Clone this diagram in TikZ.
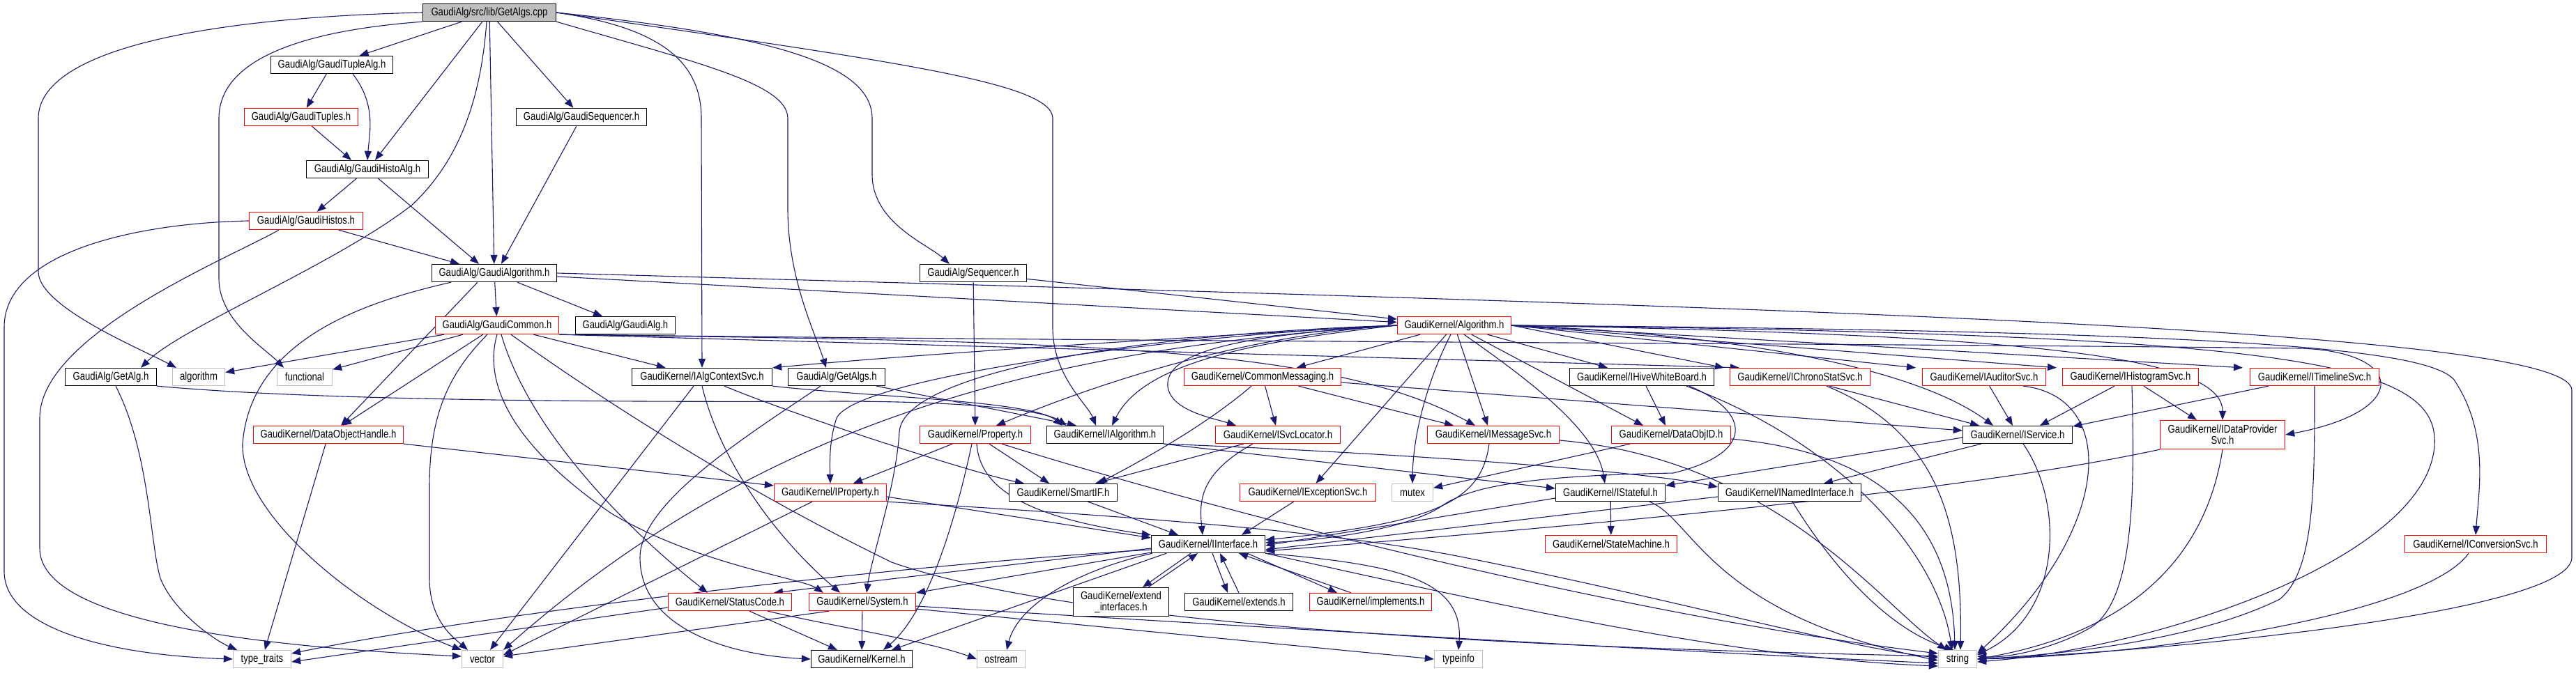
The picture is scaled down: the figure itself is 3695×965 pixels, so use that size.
\documentclass[tikz,border=0pt]{standalone}
\usepackage{fontspec}
\setmainfont{Liberation Sans}[FakeStretch=0.82]
\usetikzlibrary{arrows.meta}
\definecolor{edgeblue}{HTML}{191970}
\definecolor{extgrey}{HTML}{BFBFBF}
\definecolor{trunc}{HTML}{FF0000}
\pgfdeclarelayer{bg}
\pgfsetlayers{bg,main}
\tikzset{
  nbox/.style={draw=black, line width=0.65pt, rectangle, inner sep=0pt, minimum height=12.5pt, fill=white, align=center, font=\fontsize{8}{7.8}\selectfont},
  rbox/.style={nbox, draw=trunc},
  gbox/.style={nbox, draw=extgrey},
  rootn/.style={nbox, fill=extgrey},
  dep/.style={draw=edgeblue, line width=0.55pt, -{Triangle[length=6.5pt,width=5pt]}},
}
\begin{document}
\begin{tikzpicture}[x=0.5pt,y=-0.5pt]
\useasboundingbox (0,0) rectangle (3695,965);
% ---------------- nodes ----------------
\node[rootn, minimum width=95.5pt] (root) at (702,18) {GaudiAlg/src/lib/GetAlgs.cpp};
\node[nbox, minimum width=87.5pt] (tuplealg) at (476,93) {GaudiAlg/GaudiTupleAlg.h};
\node[rbox, minimum width=81.5pt] (tuples) at (432,168) {GaudiAlg/GaudiTuples.h};
\node[nbox, minimum width=93.5pt] (gseq) at (834,168) {GaudiAlg/GaudiSequencer.h};
\node[nbox, minimum width=87.5pt] (histoalg) at (527,243) {GaudiAlg/GaudiHistoAlg.h};
\node[rbox, minimum width=81.5pt] (histos) at (439,317) {GaudiAlg/GaudiHistos.h};
\node[nbox, minimum width=89.5pt] (galgorithm) at (709,392) {GaudiAlg/GaudiAlgorithm.h};
\node[nbox, minimum width=76.5pt] (seq) at (1396,392) {GaudiAlg/Sequencer.h};
\node[rbox, minimum width=88.5pt] (gcommon) at (713,467) {GaudiAlg/GaudiCommon.h};
\node[nbox, minimum width=71.5pt] (galg) at (897,467) {GaudiAlg/GaudiAlg.h};
\node[rbox, minimum width=81.5pt] (algo) at (2086,467) {GaudiKernel/Algorithm.h};
\node[nbox, minimum width=65.5pt] (getalg) at (159,541) {GaudiAlg/GetAlg.h};
\node[gbox, minimum width=37.5pt] (algorithmstd) at (285,541) {algorithm};
\node[gbox, minimum width=39.5pt] (functional) at (437,541) {functional};
\node[nbox, minimum width=100.5pt] (ialgctx) at (1007,541) {GaudiKernel/IAlgContextSvc.h};
\node[nbox, minimum width=69.5pt] (getalgs) at (1200,541) {GaudiAlg/GetAlgs.h};
\node[rbox, minimum width=112.5pt] (commsg) at (1811,541) {GaudiKernel/CommonMessaging.h};
\node[nbox, minimum width=103.5pt] (hive) at (2355,541) {GaudiKernel/IHiveWhiteBoard.h};
\node[rbox, minimum width=100.5pt] (chrono) at (2582,541) {GaudiKernel/IChronoStatSvc.h};
\node[rbox, minimum width=88.5pt] (auditor) at (2846,541) {GaudiKernel/IAuditorSvc.h};
\node[rbox, minimum width=97.5pt] (histsvc) at (3056,541) {GaudiKernel/IHistogramSvc.h};
\node[rbox, minimum width=92.5pt] (timeline) at (3320,541) {GaudiKernel/ITimelineSvc.h};
\node[rbox, minimum width=107.5pt] (doh) at (471,624) {GaudiKernel/DataObjectHandle.h};
\node[rbox, minimum width=79.5pt] (property) at (1399,624) {GaudiKernel/Property.h};
\node[nbox, minimum width=83.5pt] (ialgorithm) at (1585,624) {GaudiKernel/IAlgorithm.h};
\node[rbox, minimum width=89.5pt] (svcloc) at (1833,624) {GaudiKernel/ISvcLocator.h};
\node[rbox, minimum width=94.5pt] (msgsvc) at (2142,624) {GaudiKernel/IMessageSvc.h};
\node[rbox, minimum width=85.5pt] (dataobjid) at (2397,624) {GaudiKernel/DataObjID.h};
\node[nbox, minimum width=78.5pt] (iservice) at (2894,624) {GaudiKernel/IService.h};
\node[rbox, minimum width=89.5pt, minimum height=20.5pt] (dataprov) at (3188,624) {GaudiKernel/IDataProvider\\Svc.h};
\node[rbox, minimum width=80.5pt] (iproperty) at (1191,707) {GaudiKernel/IProperty.h};
\node[nbox, minimum width=77.5pt] (smartif) at (1525,707) {GaudiKernel/SmartIF.h};
\node[rbox, minimum width=97.5pt] (excsvc) at (1876,707) {GaudiKernel/IExceptionSvc.h};
\node[gbox, minimum width=29.5pt] (mutex) at (2026,707) {mutex};
\node[nbox, minimum width=78.5pt] (stateful) at (2310,707) {GaudiKernel/IStateful.h};
\node[nbox, minimum width=102.5pt] (named) at (2567,707) {GaudiKernel/INamedInterface.h};
\node[nbox, minimum width=81.5pt] (iinterface) at (1733,781) {GaudiKernel/IInterface.h};
\node[rbox, minimum width=94.5pt] (statemachine) at (2311,781) {GaudiKernel/StateMachine.h};
\node[rbox, minimum width=101.5pt] (convsvc) at (3551,781) {GaudiKernel/IConversionSvc.h};
\node[rbox, minimum width=88.5pt] (statuscode) at (1047,864) {GaudiKernel/StatusCode.h};
\node[rbox, minimum width=76.5pt] (system) at (1237,864) {GaudiKernel/System.h};
\node[nbox, minimum width=68.5pt, minimum height=20.5pt] (extint) at (1608,864) {GaudiKernel/extend\\\_interfaces.h};
\node[nbox, minimum width=77.5pt] (extends) at (1777,864) {GaudiKernel/extends.h};
\node[rbox, minimum width=87.5pt] (implements) at (1966,864) {GaudiKernel/implements.h};
\node[gbox, minimum width=41.5pt] (typetraits) at (376,946) {type\_traits};
\node[gbox, minimum width=29.5pt] (vector) at (692,946) {vector};
\node[nbox, minimum width=72.5pt] (kernel) at (1236,946) {GaudiKernel/Kernel.h};
\node[gbox, minimum width=34.5pt] (ostream) at (1436,946) {ostream};
\node[gbox, minimum width=34.5pt] (typeinfo) at (2092,946) {typeinfo};
\node[gbox, minimum width=27.5pt] (string) at (2808,946) {string};
% ---------------- edges ----------------
\begin{pgfonlayer}{bg}
\fill[white] (0,0) rectangle (3695,965);
% root
\draw[dep] (root) -- (tuplealg);
\draw[dep] (root) -- ([xshift=5.5pt]histoalg.north);
\draw[dep] (root) -- (galgorithm);
\draw[dep] (root) -- (gseq);
\draw[dep] (root.east) .. controls (1100,50) and (1251,90) .. (1251,170) -- (1251,250) .. controls (1251,320) and (1330,350) .. ([xshift=-17pt]seq.north);
\draw[dep] ([xshift=-2pt]root.south) .. controls (690,140) and (660,230) .. (590,295) .. controls (480,380) and (260,470) .. ([xshift=21.5pt]getalg.north);
\draw[dep] (root.west) .. controls (300,25) and (55,70) .. (55,170) -- (55,390) .. controls (55,440) and (200,500) .. ([xshift=-16pt]algorithmstd.north);
\draw[dep] (root.south west) .. controls (420,45) and (314,90) .. (314,170) -- (314,400) .. controls (314,460) and (380,500) .. ([xshift=-15pt]functional.north);
\draw[dep] (root.east) .. controls (950,40) and (1006,90) .. (1006,170) -- (ialgctx.north);
\draw[dep] (root.south east) .. controls (1000,90) and (1130,120) .. (1130,170) -- (1130,300) .. controls (1130,400) and (1170,480) .. ([xshift=-7.5pt]getalgs.north);
\draw[dep] (root.east) .. controls (1300,90) and (1510,120) .. (1510,170) -- (1510,470) .. controls (1510,540) and (1560,580) .. ([xshift=-6.5pt]ialgorithm.north);
% upper GaudiAlg part
\draw[dep] (tuplealg) -- (tuples);
\draw[dep] ([xshift=15pt]tuplealg.south) .. controls (540,150) and (530,190) .. (histoalg.north);
\draw[dep] (tuples) -- ([xshift=-11.5pt]histoalg.north);
\draw[dep] (histoalg) -- (histos);
\draw[dep] (histoalg) -- ([xshift=-11pt]galgorithm.north);
\draw[dep] (histos) -- ([xshift=-25pt]galgorithm.north);
\draw[dep] (histos.west) .. controls (200,320) and (6,360) .. (6,470) -- (6,820) .. controls (6,900) and (150,940) .. (typetraits.west);
\draw[dep] ([xshift=-19.5pt]histos.south) .. controls (330,370) and (57,480) .. (57,600) -- (57,787) .. controls (57,880) and (300,925) .. ([yshift=2pt]vector.west);
\draw[dep] (gseq) -- ([xshift=5pt]galgorithm.north);
\draw[dep] (seq) -- (algo);
\draw[dep] (seq) -- (property);
% GaudiAlgorithm
\draw[dep] (galgorithm) -- (gcommon);
\draw[dep] (galgorithm) -- (galg);
\draw[dep] (galgorithm) -- (algo);
\draw[dep] ([xshift=-12pt]galgorithm.south) -- ([xshift=9pt]doh.north);
\draw[dep] ([xshift=-31pt]galgorithm.south) .. controls (540,430) and (360,480) .. (348,637) .. controls (345,740) and (520,880) .. (vector.north west);
\draw[dep] (galgorithm.east) .. controls (2500,440) and (3689,470) .. (3689,560) -- (3689,800) .. controls (3689,880) and (3100,935) .. (string.east);
% GaudiCommon
\draw[dep] (gcommon) -- (algorithmstd);
\draw[dep] (gcommon) -- (functional);
\draw[dep] (gcommon) -- (doh);
\draw[dep] ([xshift=-7pt]gcommon.south) .. controls (640,540) and (616,600) .. (616,700) -- (616,830) .. controls (616,890) and (650,915) .. ([xshift=-10.5pt]vector.north);
\draw[dep] ([xshift=3pt]gcommon.south) .. controls (760,620) and (900,760) .. ([xshift=-16pt]statuscode.north);
\draw[dep] (gcommon.south) .. controls (690,560) and (750,650) .. (877,737) .. controls (1000,810) and (1150,830) .. ([xshift=-28pt]system.north);
\draw[dep] (gcommon) -- (ialgctx);
\draw[dep] ([xshift=10pt]gcommon.south) .. controls (900,600) and (1100,720) .. (1279,807) .. controls (1600,920) and (2500,935) .. ([yshift=2pt]string.west);
\draw[dep] (gcommon.south east) -- ([xshift=-43.5pt]chrono.north);
\draw[dep] (gcommon.south east) .. controls (1500,490) and (1900,492) .. ([xshift=-13pt]msgsvc.north);
\draw[dep] (gcommon.south east) .. controls (1800,492) and (2600,492) .. (3300,500) .. controls (3450,505) and (3460,590) .. (dataprov.east);
% Algorithm.h
\draw[dep] (algo) -- (commsg);
\draw[dep] (algo) -- (excsvc);
\draw[dep] ([xshift=-2.5pt]algo.south) .. controls (2050,540) and (2027,620) .. (mutex.north);
\draw[dep] (algo) -- ([xshift=-4pt]msgsvc.north);
\draw[dep] ([xshift=7pt]algo.south) .. controls (2200,550) and (2290,620) .. ([xshift=-4pt]stateful.north);
\draw[dep] (algo) -- ([xshift=-20pt]dataobjid.north);
\draw[dep] (algo) -- ([xshift=-24.5pt]hive.north);
\draw[dep] (algo.east) -- ([xshift=-54.5pt]chrono.north);
\draw[dep] (algo.east) -- ([xshift=-49pt]auditor.north);
\draw[dep] (algo.east) -- ([xshift=-53pt]histsvc.north);
\draw[dep] (algo.east) -- ([xshift=-51.5pt]timeline.north);
\draw[dep] (algo.east) .. controls (2900,480) and (3188,510) .. (dataprov.north);
\draw[dep] (algo.east) .. controls (3200,475) and (3480,500) .. (3520,545) .. controls (3570,620) and (3556,700) .. (convsvc.north);
\draw[dep] (algo.east) .. controls (3300,480) and (3500,520) .. (3492,640) .. controls (3480,800) and (3100,930) .. ([yshift=-2pt]string.east);
\draw[dep] (algo.east) .. controls (2500,480) and (2750,530) .. ([xshift=-17.5pt]iservice.north);
\draw[dep] (algo.west) .. controls (1800,480) and (1670,500) .. (1675,555) .. controls (1680,590) and (1740,600) .. ([xshift=-30pt]svcloc.north);
\draw[dep] (algo.west) .. controls (1800,490) and (1640,520) .. ([xshift=5pt]ialgorithm.north);
\draw[dep] (algo.west) .. controls (1800,480) and (1600,540) .. ([xshift=15pt]property.north);
\draw[dep] (algo.west) .. controls (1700,480) and (1230,540) .. (1200,600) .. controls (1190,630) and (1190,660) .. (iproperty.north);
\draw[dep] (algo.west) .. controls (1600,480) and (1295,540) .. (1290,620) .. controls (1285,700) and (1250,800) .. ([xshift=3pt]system.north);
\draw[dep] (algo.west) .. controls (1500,500) and (1100,600) .. (vector.north east);
\draw[dep] (algo.west) .. controls (1600,490) and (1300,510) .. (ialgctx.north east);
% GetAlg, IAlgContextSvc, GetAlgs
\draw[dep] (getalg.south east) .. controls (400,570) and (700,578) .. (1200,576) .. controls (1400,576) and (1500,590) .. ([xshift=-27.5pt]ialgorithm.north);
\draw[dep] ([xshift=3.5pt]getalg.south) .. controls (215,650) and (215,780) .. (230,830) .. controls (250,880) and (310,920) .. ([xshift=-18pt]typetraits.north);
\draw[dep] (ialgctx.south east) .. controls (1250,570) and (1480,575) .. ([xshift=-30.5pt]ialgorithm.north);
\draw[dep] ([xshift=16pt]ialgctx.south) .. controls (1150,600) and (1400,680) .. ([xshift=-28pt]smartif.north);
\draw[dep] ([xshift=-6pt]ialgctx.south) -- ([xshift=5.5pt]vector.north);
\draw[dep] (ialgctx.south) .. controls (1030,650) and (1100,760) .. ([xshift=-16pt]system.north);
\draw[dep] ([xshift=-6.5pt]getalgs.south east) -- ([xshift=-20.5pt]ialgorithm.north);
\draw[dep] ([xshift=-11.5pt]getalgs.south) .. controls (1080,620) and (918,720) .. (918,800) .. controls (918,900) and (1040,940) .. (kernel.west);
% DataObjectHandle, Property, IProperty
\draw[dep] (doh) -- (typetraits);
\draw[dep] (doh.south east) -- ([yshift=5pt]iproperty.west);
\draw[dep] (property) -- (iproperty);
\draw[dep] (property) -- (smartif);
\draw[dep] ([xshift=1pt]property.south) .. controls (1405,690) and (1450,740) .. (iinterface.north west);
\draw[dep] ([xshift=-2.5pt]property.south) .. controls (1370,750) and (1330,880) .. ([xshift=15.5pt]kernel.north);
\draw[dep] ([xshift=19pt]property.south) .. controls (1700,720) and (2300,880) .. ([yshift=4pt]string.west);
\draw[dep] ([yshift=-3pt]iproperty.east) -- ([yshift=4.5pt]iinterface.west);
\draw[dep] ([xshift=-13pt]iproperty.south) -- ([yshift=3pt]vector.east);
\draw[dep] (iproperty.south east) .. controls (1600,740) and (1900,760) .. (2100,800) .. controls (2400,860) and (2650,930) .. ([yshift=1pt]string.west);
% SmartIF, ISvcLocator, CommonMessaging
\draw[dep] (smartif) -- ([xshift=-21.5pt]iinterface.north);
\draw[dep] (svcloc) -- ([xshift=23pt]smartif.north);
\draw[dep] ([xshift=-18pt]svcloc.south) .. controls (1720,680) and (1720,720) .. ([xshift=-4pt]iinterface.north);
\draw[dep] (commsg) -- ([xshift=-28.5pt]msgsvc.north);
\draw[dep] (commsg) -- ([xshift=-1.5pt]svcloc.north);
\draw[dep] ([xshift=-8pt]commsg.south) .. controls (1730,610) and (1640,660) .. ([xshift=25pt]smartif.north);
\draw[dep] ([yshift=-4pt]commsg.east) -- ([yshift=3pt]iservice.west);
% IMessageSvc, IExceptionSvc, DataObjID, IHiveWhiteBoard
\draw[dep] ([xshift=-3pt]msgsvc.south) .. controls (2125,720) and (2060,750) .. ([yshift=3pt]iinterface.east);
\draw[dep] ([yshift=-4pt]msgsvc.east) .. controls (2550,660) and (2700,870) .. ([xshift=-8pt]string.north);
\draw[dep] (excsvc) -- ([xshift=24pt]iinterface.north);
\draw[dep] (dataobjid) -- (mutex);
\draw[dep] ([yshift=-3pt]dataobjid.east) .. controls (2700,650) and (2800,750) .. ([xshift=-2pt]string.north);
\draw[dep] ([xshift=3pt]hive.south) -- ([xshift=-4pt]dataobjid.north);
\draw[dep] ([xshift=34pt]hive.south) .. controls (2510,590) and (2520,650) .. (2400,679) .. controls (2250,682) and (2120,690) .. (2070,725) .. controls (2020,760) and (1900,775) .. ([yshift=1pt]iinterface.east);
\draw[dep] ([xshift=32pt]hive.south) .. controls (2650,640) and (2780,800) .. ([xshift=-4pt]string.north);
% IStateful, INamedInterface, IService
\draw[dep] ([yshift=-4pt]stateful.west) -- ([yshift=-1pt]iinterface.east);
\draw[dep] (stateful) -- (statemachine);
\draw[dep] ([xshift=28pt]stateful.south) .. controls (2430,745) and (2450,880) .. ([yshift=-1pt]string.west);
\draw[dep] ([yshift=-3pt]named.west) -- ([yshift=-4pt]iinterface.east);
\draw[dep] ([xshift=2pt]named.south) .. controls (2620,800) and (2700,900) .. ([xshift=-3pt]string.north);
\draw[dep] (iservice) -- ([xshift=24.5pt]named.north);
\draw[dep] ([yshift=-2pt]iservice.west) -- ([yshift=5pt]stateful.east);
\draw[dep] ([xshift=4pt]iservice.south) .. controls (2960,720) and (2960,880) .. ([yshift=3pt]string.east);
% right-hand services
\draw[dep] ([xshift=21pt]chrono.south) -- ([xshift=-27.5pt]iservice.north);
\draw[dep] ([xshift=19pt]chrono.south) .. controls (2780,620) and (2815,750) .. ([xshift=2pt]string.north);
\draw[dep] (auditor) -- ([xshift=-3.5pt]iservice.north);
\draw[dep] ([xshift=28pt]auditor.south) .. controls (3040,570) and (3030,760) .. ([yshift=4pt]string.east);
\draw[dep] ([xshift=-11.5pt]histsvc.south) -- ([xshift=16pt]iservice.north);
\draw[dep] ([xshift=9.5pt]histsvc.south) -- ([xshift=-18.5pt]dataprov.north);
\draw[dep] ([xshift=1pt]histsvc.south) .. controls (3062,700) and (3062,860) .. (3000,900) .. controls (2950,930) and (2880,945) .. ([yshift=2pt]string.east);
\draw[dep] ([xshift=-33pt]timeline.south) -- ([yshift=6pt]iservice.east);
\draw[dep] (timeline.south) .. controls (3320,700) and (3320,820) .. (3270,860) .. controls (3150,920) and (2950,940) .. (string.east);
\draw[dep] (dataprov.south) .. controls (3170,760) and (3100,900) .. (string.east);
\draw[dep] (dataprov.south west) .. controls (2800,710) and (2200,760) .. ([yshift=-5pt]iinterface.east);
\draw[dep] ([xshift=-5pt]convsvc.south) .. controls (3480,880) and (3100,940) .. (string.east);
% IAlgorithm
\draw[dep] (ialgorithm.south east) -- ([yshift=3pt]stateful.west);
\draw[dep] (ialgorithm.south east) .. controls (2000,650) and (2350,675) .. ([yshift=4pt]named.west);
% IInterface
\draw[dep] ([yshift=-3pt]iinterface.west) -- ([xshift=31.5pt]statuscode.north);
\draw[dep] ([yshift=-6pt]iinterface.west) -- (system.north east);
\draw[dep] ([xshift=-30pt]iinterface.south) -- ([xshift=21.5pt]kernel.north);
\draw[dep] ([xshift=-12.5pt]iinterface.south) -- ([xshift=15.5pt]extint.north);
\draw[dep] ([xshift=19.5pt]extint.north) -- ([xshift=-7.5pt]iinterface.south);
\draw[dep] ([xshift=3pt]iinterface.south) -- ([xshift=-8pt]extends.north);
\draw[dep] (extends.north) -- ([xshift=8.5pt]iinterface.south);
\draw[dep] ([xshift=28pt]iinterface.south) -- ([xshift=-24pt]implements.north);
\draw[dep] ([xshift=-14pt]implements.north) -- ([xshift=22pt]iinterface.south);
\draw[dep] ([xshift=-40pt]iinterface.south) .. controls (1540,820) and (1460,870) .. ([xshift=4pt]ostream.north);
\draw[dep] (iinterface.south east) .. controls (2000,810) and (2100,830) .. (typeinfo.north);
\draw[dep] (iinterface.south east) .. controls (2200,880) and (2500,945) .. ([yshift=-5pt]string.west);
\draw[dep] ([yshift=-4pt]iinterface.west) .. controls (1300,810) and (700,880) .. ([yshift=4pt]typetraits.east);
% System, StatusCode
\draw[dep] ([yshift=-5pt]system.east) -- (typeinfo.west);
\draw[dep] ([yshift=-3pt]system.east) .. controls (1800,900) and (2400,935) .. ([yshift=-3pt]string.west);
\draw[dep] (system) -- (kernel);
\draw[dep] ([xshift=-24pt]system.south) -- ([yshift=2pt]vector.east);
\draw[dep] ([xshift=14pt]statuscode.south) -- ([xshift=-17.5pt]kernel.north);
\draw[dep] ([xshift=27pt]statuscode.south) .. controls (1200,900) and (1330,920) .. (ostream.west);
\draw[dep] ([yshift=-4pt]statuscode.west) -- ([yshift=-2pt]typetraits.east);
\end{pgfonlayer}
\end{tikzpicture}
\end{document}
